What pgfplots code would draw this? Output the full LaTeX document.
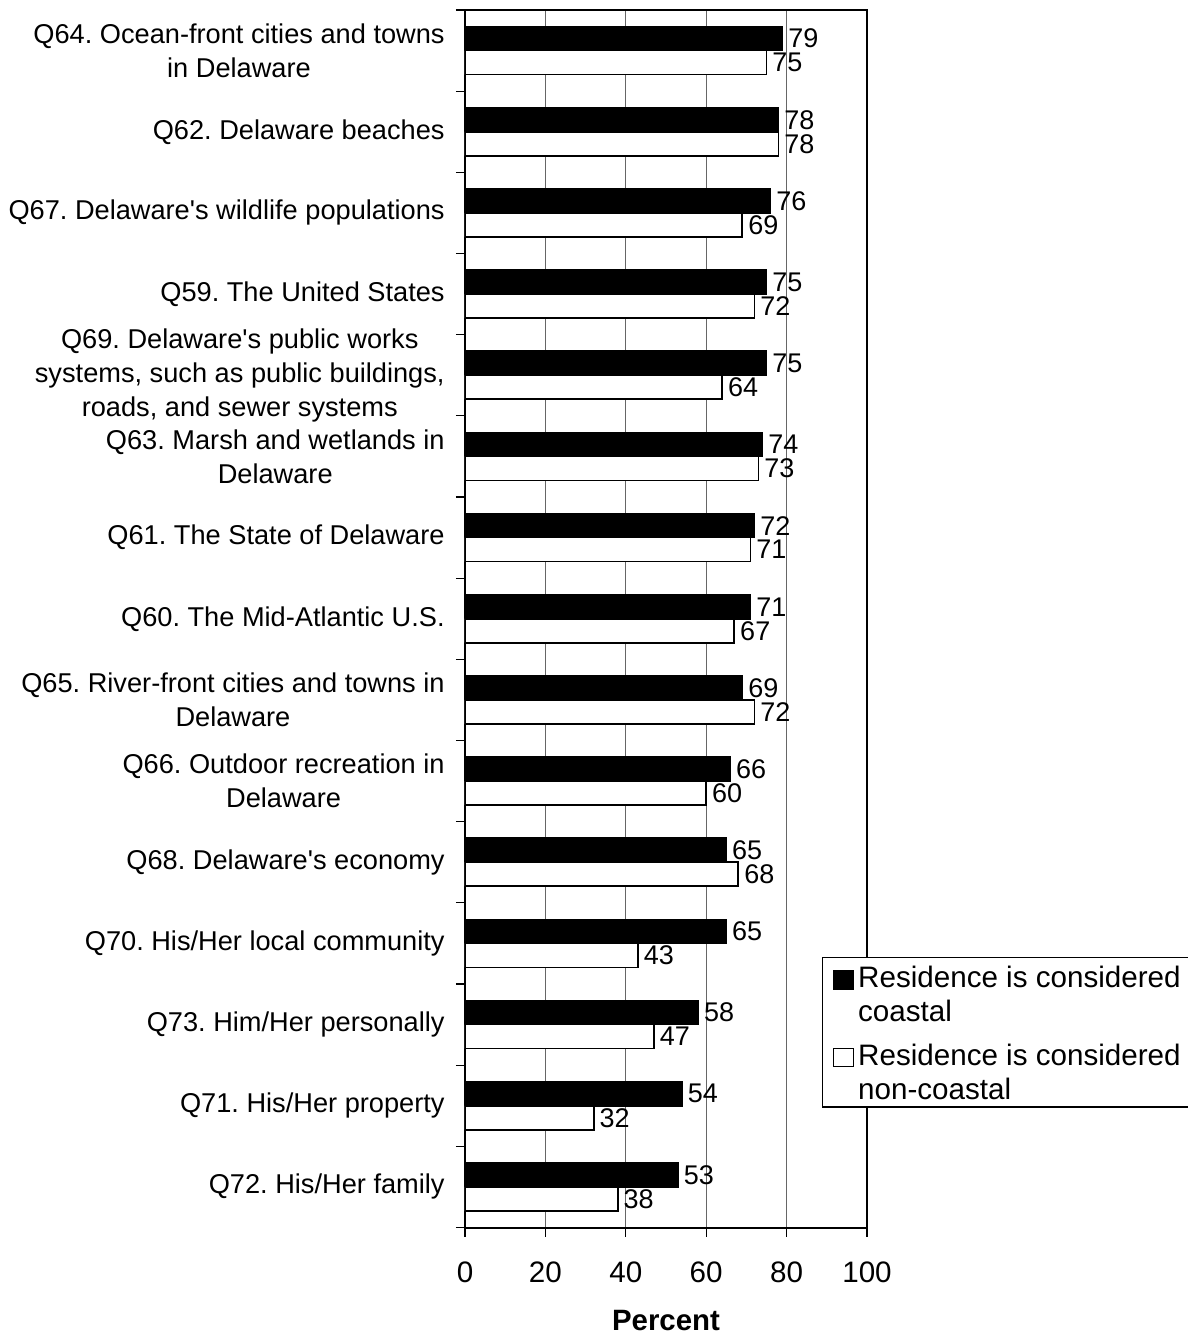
\documentclass[border=0pt]{standalone}
\usepackage{pgfplots}
\pgfplotsset{compat=1.18}
\usepackage{fontspec}
\setmainfont{Liberation Sans}
\frenchspacing
\begin{document}
\begin{tikzpicture}
\useasboundingbox (0,0) rectangle (594pt,667pt);
\begin{axis}[
  at={(232.5pt,53.25pt)}, anchor=south west,
  scale only axis, width=201pt, height=608.75pt,
  xbar, bar width=12pt,
  xmin=0, xmax=100, ymin=-0.5, ymax=14.5,
  /pgf/number format/assume math mode=true,
  xtick={0,20,...,100}, minor xtick={0,20,...,100},
  ytick={0,...,14}, minor ytick={-0.5,0.5,...,14.5},
  major tick length=0pt, minor tick length=4.5pt, tick align=outside,
  xtick pos=left, ytick pos=left,
  xmajorgrids, major grid style={black!60, line width=0.6pt},
  minor tick style={black, line width=0.6pt},
  axis line style={black, line width=1pt},
  yticklabels={
    {Q72. His/Her family},
    {Q71. His/Her property},
    {Q73. Him/Her personally},
    {Q70. His/Her local community},
    {Q68. Delaware\textquotesingle s economy},
    {Q66. Outdoor recreation in\\Delaware},
    {Q65. River-front cities and towns in\\Delaware},
    {Q60. The Mid-Atlantic U.S.},
    {Q61. The State of Delaware},
    {Q63. Marsh and wetlands in\\Delaware},
    {Q69. Delaware\textquotesingle s public works\\systems, such as public buildings,\\roads, and sewer systems},
    {Q59. The United States},
    {Q67. Delaware\textquotesingle s wildlife populations},
    {Q62. Delaware beaches},
    {Q64. Ocean-front cities and towns\\in Delaware}},
  yticklabel style={font=\fontsize{13.6}{17}\selectfont, align=center, anchor=east, inner sep=0pt, xshift=-10pt},
  xticklabel style={font=\fontsize{14.8}{16}\selectfont, anchor=north, inner sep=0pt, yshift=-17pt},
  xlabel={Percent},
  xlabel style={at={(axis description cs:0.5,0)}, anchor=base, yshift=-51.25pt, font=\fontsize{14.7}{17}\selectfont\bfseries},
  nodes near coords,
  nodes near coords style={font=\fontsize{13.5}{16}\selectfont, anchor=west, inner sep=0pt, xshift=2.5pt, text=black},
  legend style={at={(axis description cs:0.888,0.2222)}, anchor=north west, draw=black, line width=0.6pt,
    inner xsep=5pt, inner ysep=4pt, font=\fontsize{14.8}{17}\selectfont, row sep=10.7pt, column sep=2.2pt,
    cells={anchor=north west}, nodes={inner sep=0pt, anchor=north west, text depth=-5pt}},
  legend image code/.code={\draw[#1, line width=0.6pt] (0pt,-2.6pt) rectangle (10pt,-11.9pt);},
]
\addplot[fill=black, draw=black, line width=0.9pt, bar shift=6pt] coordinates {
  (53,0) (54,1) (58,2) (65,3) (65,4) (66,5) (69,6) (71,7) (72,8) (74,9) (75,10) (75,11) (76,12) (78,13) (79,14)};
\addlegendentry[align=left, text depth=-5pt]{Residence is considered\\coastal}
\addplot[fill=white, draw=black, line width=0.9pt, bar shift=-6pt] coordinates {
  (38,0) (32,1) (47,2) (43,3) (68,4) (60,5) (72,6) (67,7) (71,8) (73,9) (64,10) (72,11) (69,12) (78,13) (75,14)};
\addlegendentry[align=left, text depth=-5pt]{Residence is considered\\non-coastal}
\end{axis}
\end{tikzpicture}
\end{document}
